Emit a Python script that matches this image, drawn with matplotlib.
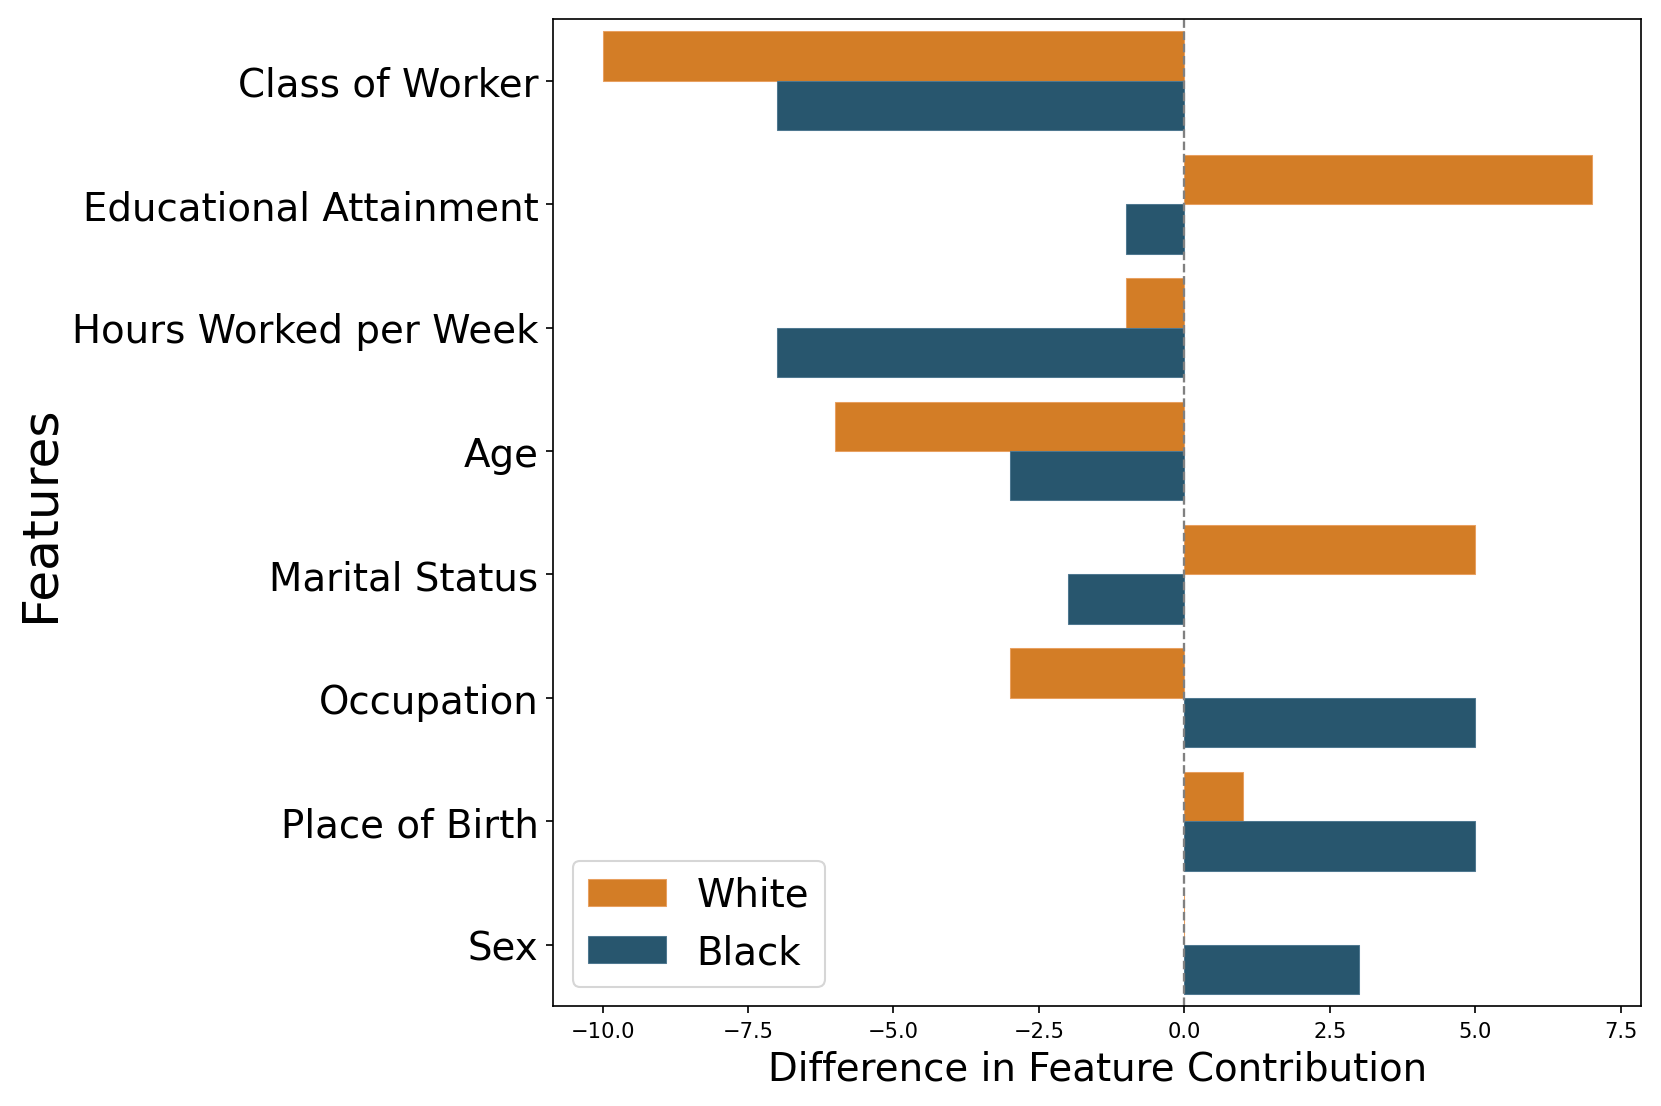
import numpy as np
import matplotlib
matplotlib.use("Agg")
import matplotlib.pyplot as plt

features = ["Class of Worker", "Educational Attainment", "Hours Worked per Week",
            "Age", "Marital Status", "Occupation", "Place of Birth", "Sex"]
white = [-10, 7, -1, -6, 5, -3, 1, 0]
black = [-7, -1, -7, -3, -2, 5, 5, 3]

orange = "#D37D26"
blue = "#28566E"

fig, ax = plt.subplots(figsize=(11, 7.33), dpi=151)
fig.subplots_adjust(left=0.333, right=0.988, top=0.982, bottom=0.09)

y = np.arange(len(features))
h = 0.4
ax.barh(y - h / 2, white, height=h, color=orange, label="White",
        edgecolor="#E8A060", linewidth=0.5)
ax.barh(y + h / 2, black, height=h, color=blue, label="Black",
        edgecolor="#4F7890", linewidth=0.5)

ax.axvline(0, color="gray", linestyle="--", linewidth=1.1)

ax.set_yticks(y)
ax.set_yticklabels(features, fontsize=18.5)
ax.set_ylim(len(features) - 0.5, -0.5)
ax.tick_params(axis="x", labelsize=10)

ax.set_xlabel("Difference in Feature Contribution", fontsize=18.5)
ax.set_ylabel("Features", fontsize=24)

ax.legend(loc="lower left", fontsize=18.5)

plt.savefig("out.png", dpi=151)
